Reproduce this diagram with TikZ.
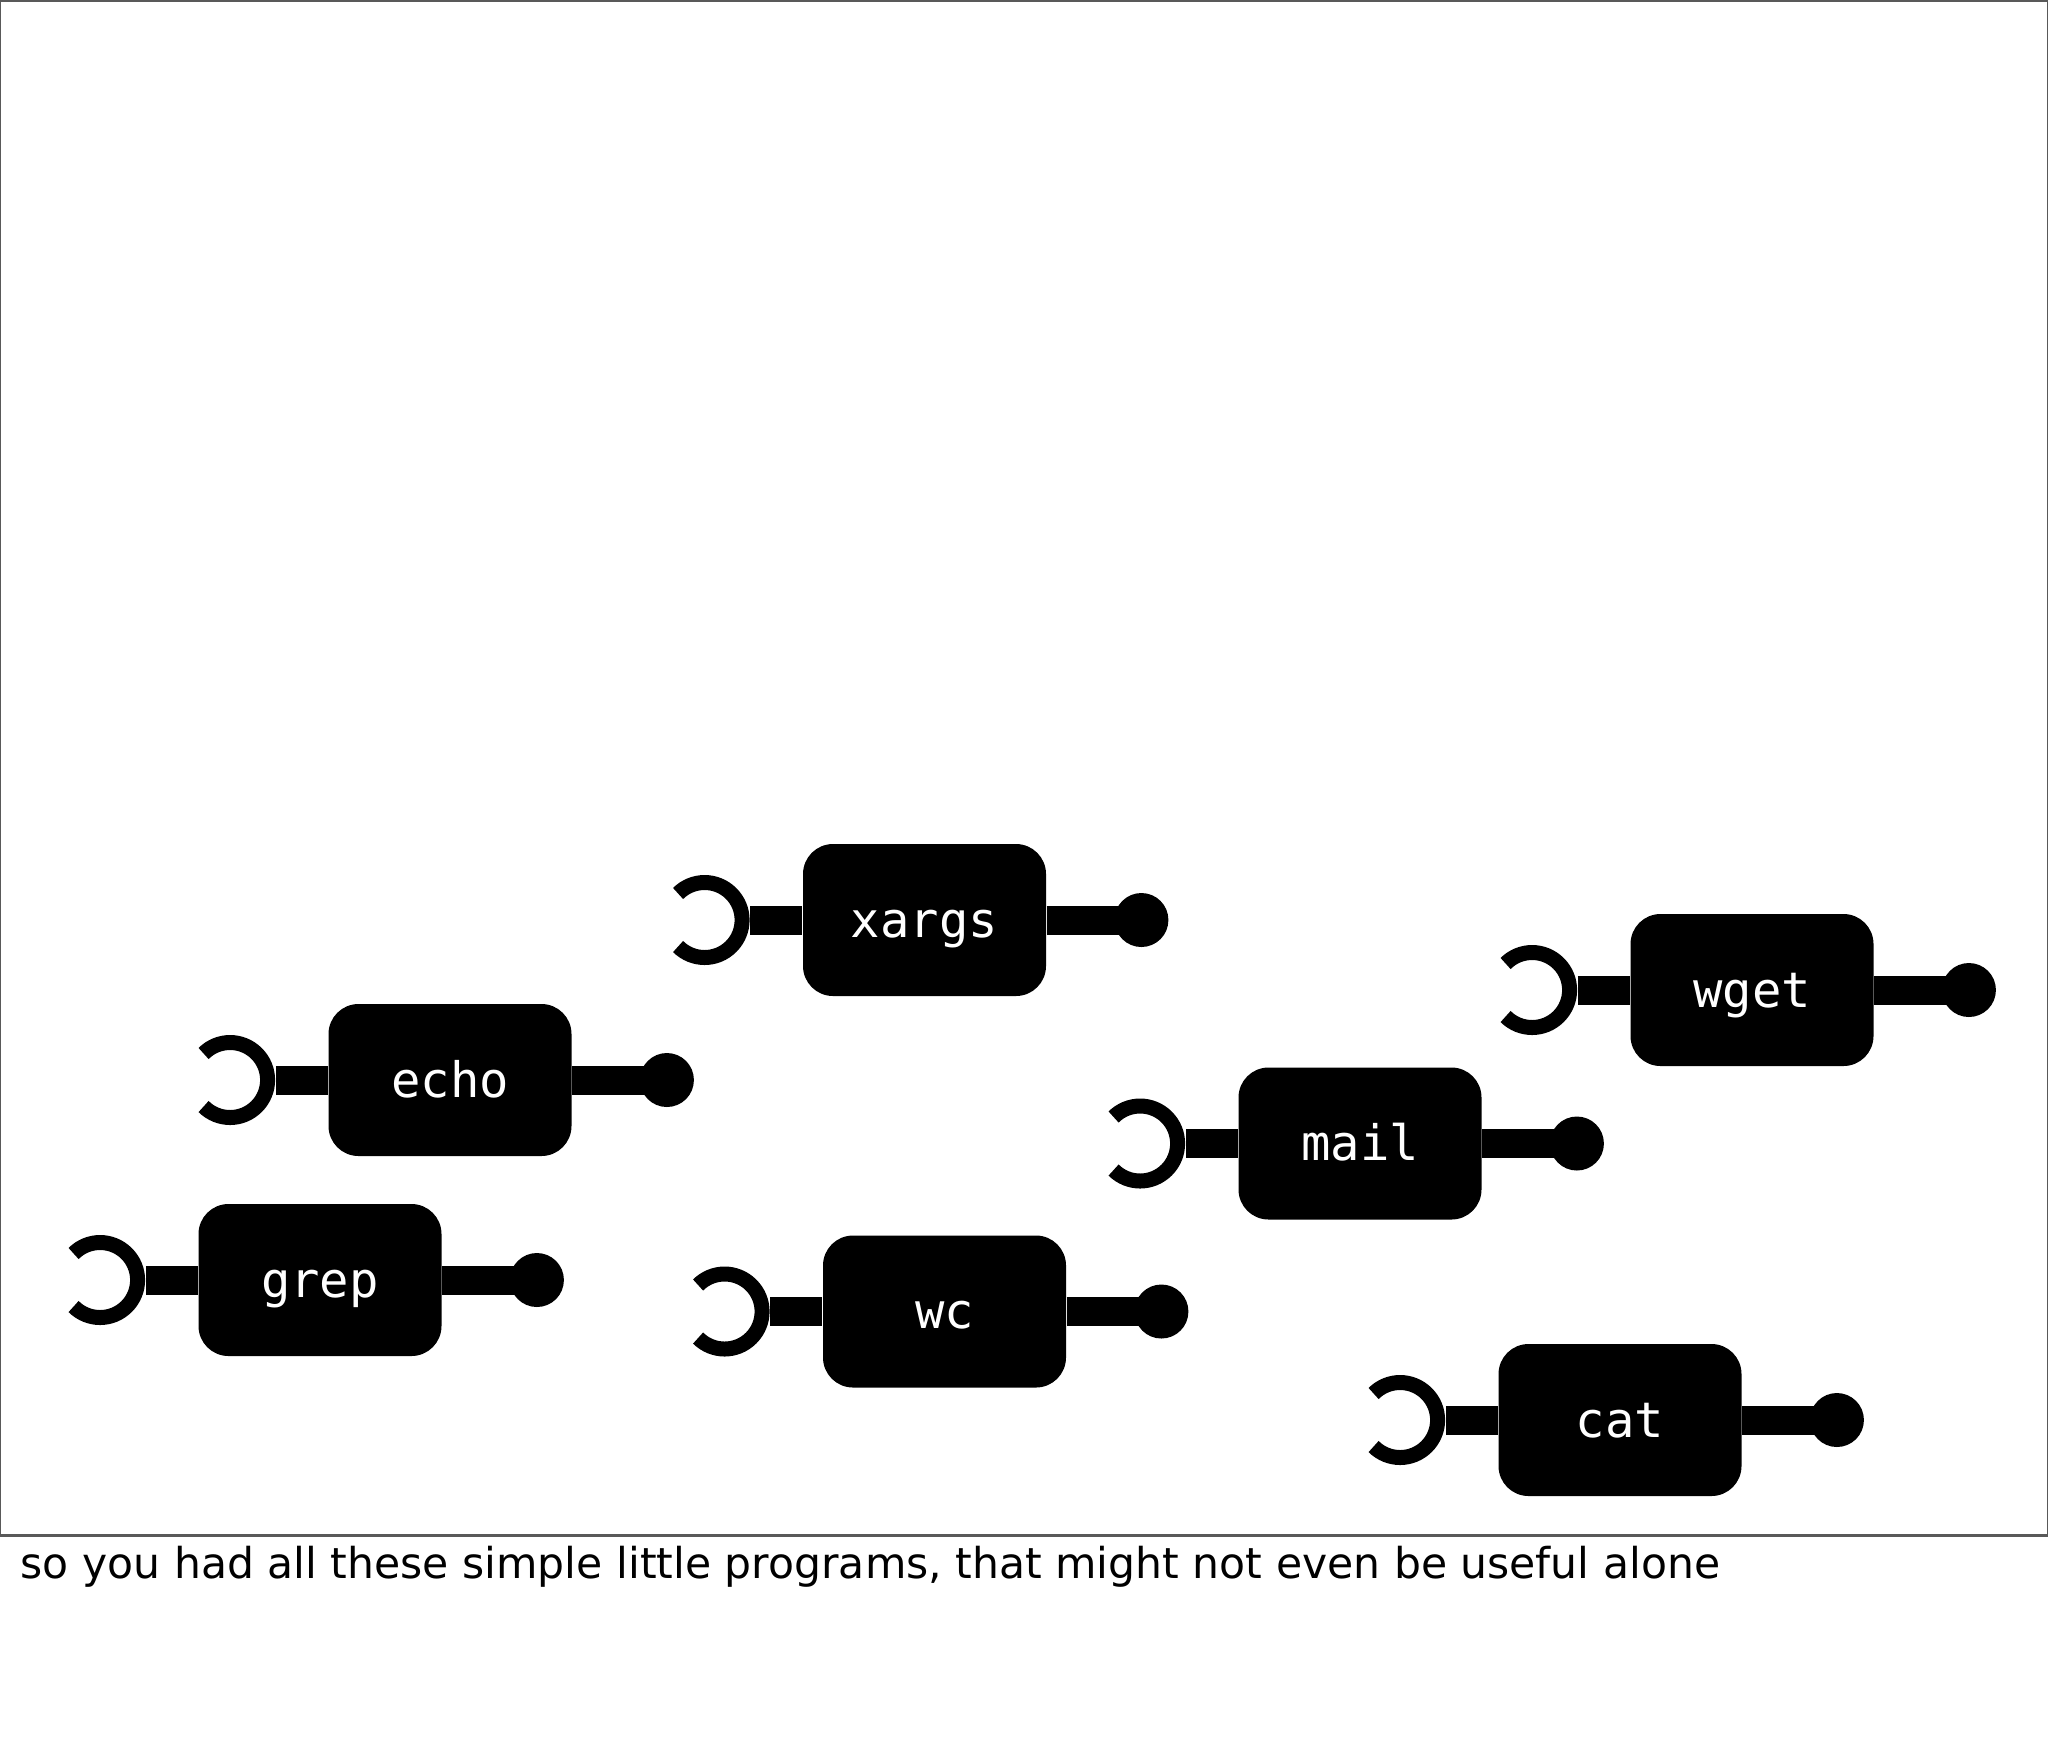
\documentclass[tikz,border=0pt]{standalone}
\usepackage{fontspec}
\setmainfont{DejaVu Sans}
\newfontfamily\progfont{DejaVu Sans Mono}
\usetikzlibrary{positioning}

\begin{document}
\begin{tikzpicture}[x=0.1mm, y=-0.1mm,
  prog/.style={fill=black,rounded corners=3mm,minimum width=24.3mm,minimum height=15.2mm,inner sep=0pt,
    text=white,text height=3.4mm,text depth=0mm,font=\progfont\fontsize{13.9}{16}\selectfont},
  sock/.style={circle,inner sep=0pt,minimum size=9mm},
  plug/.style={circle,fill=black,inner sep=0pt,minimum size=5.4mm},
  bar/.style={line width=2.9mm},
  ring/.style={line width=1.5mm}]
  \useasboundingbox (0,0) rectangle (2048,1744);
  \draw[black!65, line width=0.15mm] (0.75,0.75) rectangle (2047.25,1535);
  \draw[black!65, line width=0.3mm] (0,1535) -- (2048,1535);

  % the programs
  \node[prog] (xargs) at (924.5,920) {xargs};
  \node[prog] (echo) at (450,1080) {echo};
  \node[prog] (grep) at (320,1280) {grep};
  \node[prog] (wc) at (944.5,1311.5) {wc};
  \node[prog] (mail) at (1360,1143.5) {mail};
  \node[prog] (wget) at (1752,990) {wget};
  \node[prog] (cat) at (1620,1420) {cat};

  % input sockets and output plugs
  \node[sock, left=5.2mm of xargs] (xargs-in) {};
  \node[plug, right=6.7mm of xargs] (xargs-out) {};
  \node[sock, left=5.2mm of echo] (echo-in) {};
  \node[plug, right=6.7mm of echo] (echo-out) {};
  \node[sock, left=5.2mm of grep] (grep-in) {};
  \node[plug, right=6.7mm of grep] (grep-out) {};
  \node[sock, left=5.2mm of wc] (wc-in) {};
  \node[plug, right=6.7mm of wc] (wc-out) {};
  \node[sock, left=5.2mm of mail] (mail-in) {};
  \node[plug, right=6.7mm of mail] (mail-out) {};
  \node[sock, left=5.2mm of wget] (wget-in) {};
  \node[plug, right=6.7mm of wget] (wget-out) {};
  \node[sock, left=5.2mm of cat] (cat-in) {};
  \node[plug, right=6.7mm of cat] (cat-out) {};

  \draw[ring] (xargs-in.center) ++(135:3.75mm) arc[start angle=135,end angle=-135,radius=3.75mm];
  \draw[ring] (echo-in.center) ++(135:3.75mm) arc[start angle=135,end angle=-135,radius=3.75mm];
  \draw[ring] (grep-in.center) ++(135:3.75mm) arc[start angle=135,end angle=-135,radius=3.75mm];
  \draw[ring] (wc-in.center) ++(135:3.75mm) arc[start angle=135,end angle=-135,radius=3.75mm];
  \draw[ring] (mail-in.center) ++(135:3.75mm) arc[start angle=135,end angle=-135,radius=3.75mm];
  \draw[ring] (wget-in.center) ++(135:3.75mm) arc[start angle=135,end angle=-135,radius=3.75mm];
  \draw[ring] (cat-in.center) ++(135:3.75mm) arc[start angle=135,end angle=-135,radius=3.75mm];

  \draw[bar] (xargs-in) -- (xargs);
  \draw[bar] (xargs) -- (xargs-out.center);
  \draw[bar] (echo-in) -- (echo);
  \draw[bar] (echo) -- (echo-out.center);
  \draw[bar] (grep-in) -- (grep);
  \draw[bar] (grep) -- (grep-out.center);
  \draw[bar] (wc-in) -- (wc);
  \draw[bar] (wc) -- (wc-out.center);
  \draw[bar] (mail-in) -- (mail);
  \draw[bar] (mail) -- (mail-out.center);
  \draw[bar] (wget-in) -- (wget);
  \draw[bar] (wget) -- (wget-out.center);
  \draw[bar] (cat-in) -- (cat);
  \draw[bar] (cat) -- (cat-out.center);

  \node[anchor=base west, inner sep=0pt, font=\fontsize{12.1}{14}\selectfont] (caption) at (20,1578)
    {so you had all these simple little programs, that might not even be useful alone};
\end{tikzpicture}
\end{document}
